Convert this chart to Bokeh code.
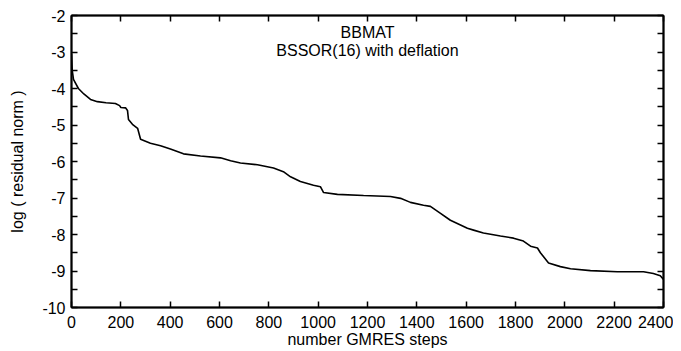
from bokeh.plotting import figure
from bokeh.models import LinearAxis, FixedTicker, Range1d, Label
from bokeh.embed import file_html
from bokeh.resources import INLINE

# GMRES steps and log(residual norm)
steps = [0, 3, 8, 28, 50, 77, 105, 140, 178, 195, 200, 219, 227, 231, 247, 268,
         280, 320, 361, 401, 454, 523, 604, 645, 685, 754, 819, 859, 888, 928,
         981, 1009, 1022, 1078, 1184, 1293, 1334, 1374, 1427, 1455, 1496, 1536,
         1577, 1605, 1630, 1670, 1739, 1792, 1832, 1861, 1889, 1901, 1934, 1982,
         2023, 2104, 2213, 2319, 2359, 2387, 2400]
log_res = [-3.05, -3.5, -3.75, -4.0, -4.15, -4.3, -4.36, -4.39, -4.41, -4.47,
           -4.52, -4.53, -4.6, -4.85, -4.98, -5.09, -5.39, -5.5, -5.57, -5.66,
           -5.79, -5.85, -5.9, -5.98, -6.04, -6.09, -6.18, -6.28, -6.42, -6.55,
           -6.65, -6.69, -6.85, -6.9, -6.93, -6.96, -7.01, -7.12, -7.2, -7.23,
           -7.42, -7.61, -7.74, -7.83, -7.88, -7.96, -8.04, -8.1, -8.18, -8.32,
           -8.37, -8.5, -8.78, -8.88, -8.94, -8.99, -9.02, -9.02, -9.07, -9.13,
           -9.23]

x_ticks = [0, 200, 400, 600, 800, 1000, 1200, 1400, 1600, 1800, 2000, 2200, 2400]
y_ticks = [-10, -9, -8, -7, -6, -5, -4, -3, -2]
y_minor = [-9.5, -8.5, -7.5, -6.5, -5.5, -4.5, -3.5, -2.5]
y_labels = {t: str(t) for t in y_ticks}
title_lines = ["BBMAT", "BSSOR(16) with deflation"]
x_title = "number GMRES steps"
y_title = "log ( residual norm )"

FONT = "Liberation Sans"
FS = "16px"

p = figure(width=673, height=350, output_backend="svg", toolbar_location=None,
           x_range=Range1d(0, 2400), y_range=Range1d(-10, -2),
           min_border_left=71, min_border_right=10, min_border_top=15,
           min_border_bottom=40, x_axis_label=x_title, y_axis_label=y_title)
p.grid.visible = False
p.outline_line_color = "black"
p.outline_line_width = 1.5
p.background_fill_color = "white"
p.border_fill_color = "white"

p.line(steps, log_res, line_color="black", line_width=1.6)

def style(ax):
    ax.axis_line_color = "black"
    ax.axis_line_width = 2
    ax.major_tick_in = 6
    ax.major_tick_out = 0
    ax.minor_tick_in = 6
    ax.minor_tick_out = 0
    ax.major_tick_line_color = "black"
    ax.minor_tick_line_color = "black"
    ax.major_tick_line_width = 1.5
    ax.minor_tick_line_width = 1.5
    ax.major_label_text_font = FONT
    ax.major_label_text_font_size = FS
    ax.major_label_text_color = "black"
    ax.axis_label_text_font = FONT
    ax.axis_label_text_font_size = FS
    ax.axis_label_text_font_style = "normal"
    ax.axis_label_text_color = "black"

xa = p.xaxis[0]
xa.ticker = FixedTicker(ticks=x_ticks)
style(xa)
xa.major_label_standoff = 8
xa.axis_label_standoff = 0

ya = p.yaxis[0]
ya.ticker = FixedTicker(ticks=y_ticks, minor_ticks=y_minor)
ya.major_label_overrides = y_labels
style(ya)
ya.major_label_standoff = 6
ya.axis_label_standoff = 13

# top and right axes: tick marks only (as minor ticks, so no labels)
top = LinearAxis(ticker=FixedTicker(ticks=[], minor_ticks=x_ticks))
style(top)
p.add_layout(top, "above")

right = LinearAxis(ticker=FixedTicker(ticks=[], minor_ticks=y_ticks + y_minor))
style(right)
p.add_layout(right, "right")

for i, txt in enumerate(title_lines):
    p.add_layout(Label(x=1200, y=-2.46 - i * 0.5, text=txt, text_align="center",
                       text_baseline="middle", text_font=FONT,
                       text_font_size=FS, text_color="black"))

open("out.html", "w").write(file_html(p, INLINE))
